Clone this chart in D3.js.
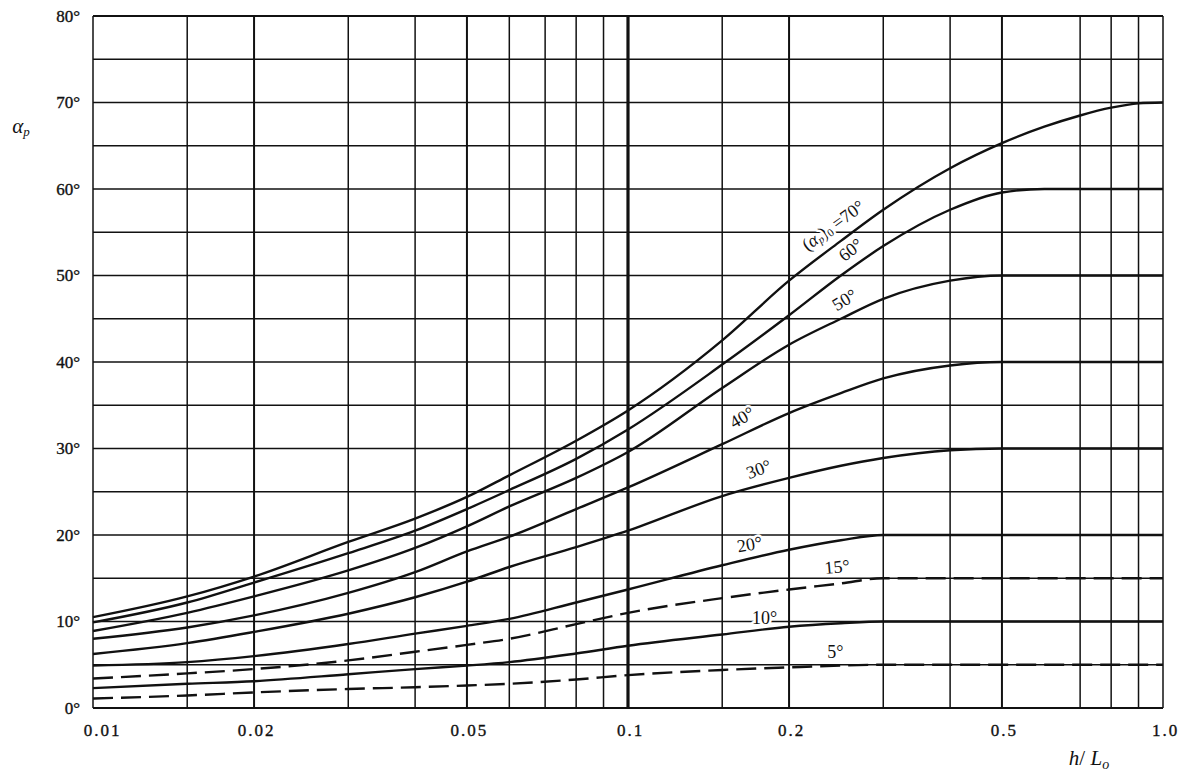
<!DOCTYPE html>
<html>
<head>
<meta charset="utf-8">
<script src="https://cdn.jsdelivr.net/npm/d3@7/dist/d3.min.js"></script>
<style>
  html, body { margin: 0; padding: 0; background: #fff; }
  svg { display: block; }
  text { font-family: "Liberation Serif", "DejaVu Serif", serif; fill: #111; }
</style>
</head>
<body>
<svg id="chart" width="1181" height="776"></svg>
<script>
// ── Data ──────────────────────────────────────────────────────────────────
// h/Lo sample points shared by every curve
const hL0 = [0.01, 0.015, 0.02, 0.03, 0.04, 0.05, 0.06, 0.08, 0.1, 0.15,
             0.2, 0.25, 0.3, 0.4, 0.5, 0.6, 0.7, 0.8, 0.9, 1.0];

// refracted angle αp for each deep-water angle (αp)0
const alpha70 = [10.5, 12.9, 15.2, 19.2, 21.9, 24.4, 26.9, 30.9, 34.4, 42.5,
                 49.4, 54.0, 57.6, 62.4, 65.3, 67.2, 68.5, 69.4, 69.9, 70];
const alpha60 = [9.9, 12.2, 14.5, 17.9, 20.5, 23.0, 25.2, 28.8, 32.2, 39.7,
                 45.4, 50.0, 53.4, 57.6, 59.6, 60, 60, 60, 60, 60];
const alpha50 = [8.9, 11.0, 12.9, 15.9, 18.5, 21.0, 23.3, 26.6, 29.6, 37.0,
                 42.0, 45.0, 47.3, 49.4, 50, 50, 50, 50, 50, 50];
const alpha40 = [8.0, 9.3, 10.7, 13.3, 15.7, 18.1, 19.8, 23.0, 25.5, 30.5,
                 34.1, 36.4, 38.1, 39.6, 40, 40, 40, 40, 40, 40];
const alpha30 = [6.25, 7.5, 8.8, 10.9, 12.8, 14.6, 16.3, 18.6, 20.5, 24.5,
                 26.6, 28.0, 28.9, 29.8, 30, 30, 30, 30, 30, 30];
const alpha20 = [4.9, 5.3, 6.0, 7.4, 8.6, 9.5, 10.3, 12.2, 13.7, 16.5,
                 18.3, 19.4, 20, 20, 20, 20, 20, 20, 20, 20];
const alpha15 = [3.4, 4.0, 4.5, 5.5, 6.5, 7.3, 8.0, 9.7, 11.0, 12.7,
                 13.7, 14.4, 15, 15, 15, 15, 15, 15, 15, 15];
const alpha10 = [2.3, 2.8, 3.1, 3.9, 4.5, 4.9, 5.3, 6.3, 7.2, 8.5,
                 9.4, 9.8, 10, 10, 10, 10, 10, 10, 10, 10];
const alpha5  = [1.1, 1.45, 1.8, 2.2, 2.4, 2.6, 2.8, 3.3, 3.8, 4.4,
                 4.7, 4.9, 5, 5, 5, 5, 5, 5, 5, 5];

const seriesNames  = ['70', '60', '50', '40', '30', '20', '15', '10', '5'];
const seriesValues = [alpha70, alpha60, alpha50, alpha40, alpha30, alpha20, alpha15, alpha10, alpha5];
const dashedSeries = ['15', '5'];

// grid + ticks
const gridX  = [0.01, 0.015, 0.02, 0.03, 0.04, 0.05, 0.06, 0.07, 0.08, 0.09,
                0.1, 0.15, 0.2, 0.3, 0.4, 0.5, 0.7, 0.8, 0.9, 1.0];
const gridY  = d3.range(0, 81, 5);
const xTicks = [0.01, 0.02, 0.05, 0.1, 0.2, 0.5, 1.0];
const yTicks = [0, 10, 20, 30, 40, 50, 60, 70, 80];

// curve labels: [h/Lo, αp, rotation]
const labelText = ['60°', '50°', '40°', '30°', '20°', '15°', '10°', '5°'];
const labelAt   = [[0.262, 52.8, -38], [0.255, 47.0, -31], [0.164, 33.4, -30], [0.176, 27.4, -20],
                   [0.169, 18.7, -10], [0.246, 16.1, -5], [0.180, 10.2, 0], [0.244, 6.2, 0]];

// ── Layout ────────────────────────────────────────────────────────────────
const svg = d3.select('#chart');
const x = d3.scaleLog().domain([0.01, 1]).range([93, 1163]);
const y = d3.scaleLinear().domain([0, 80]).range([708, 16]);

const INK = '#111';

// ── Grid ──────────────────────────────────────────────────────────────────
const grid = svg.append('g');
grid.selectAll('line.gx').data(gridX).join('line')
  .attr('x1', d => x(d)).attr('x2', d => x(d))
  .attr('y1', y(0)).attr('y2', y(80))
  .attr('stroke', INK)
  .attr('stroke-width', d => d === 0.1 ? 3.2 : ([0.02, 0.05, 0.2, 0.5].includes(d) ? 2 : 1.5));

grid.selectAll('line.gy').data(gridY).join('line')
  .attr('x1', x(0.01)).attr('x2', x(1))
  .attr('y1', d => y(d)).attr('y2', d => y(d))
  .attr('stroke', INK)
  .attr('stroke-width', d => (d === 0 || d === 80) ? 2 : 1.5);

// ── Curves ────────────────────────────────────────────────────────────────
const line = d3.line()
  .x(d => x(d[0]))
  .y(d => y(d[1]))
  .curve(d3.curveMonotoneX);

seriesNames.forEach((name, i) => {
  const pts = hL0.map((h, j) => [h, seriesValues[i][j]]);
  svg.append('path')
    .attr('d', line(pts))
    .attr('fill', 'none')
    .attr('stroke', INK)
    .attr('stroke-width', 2.4)
    .attr('stroke-dasharray', dashedSeries.includes(name) ? '20,8' : null);
});

// ── Curve labels ──────────────────────────────────────────────────────────
const labels = svg.append('g');

function halo(sel) {
  return sel.attr('stroke', '#fff').attr('stroke-width', 5)
    .attr('paint-order', 'stroke').attr('stroke-linejoin', 'round');
}

// (αp)0 = 70°
{
  const lx = x(0.243), ly = y(55.6);
  const t = labels.append('text')
    .attr('transform', `translate(${lx},${ly}) rotate(-36)`)
    .attr('text-anchor', 'middle')
    .attr('dominant-baseline', 'middle')
    .attr('font-size', 18);
  halo(t);
  t.append('tspan').text('(');
  t.append('tspan').attr('font-style', 'italic').text('α');
  t.append('tspan').attr('font-style', 'italic').attr('font-size', 11).attr('dy', 3).text('p');
  t.append('tspan').attr('dy', -3).text(')');
  t.append('tspan').attr('font-size', 11).attr('dy', 3).text('0');
  t.append('tspan').attr('dy', -3).text(' =70°');
}

labelText.forEach((txt, i) => {
  const [h, v, rot] = labelAt[i];
  halo(labels.append('text')
    .attr('transform', `translate(${x(h)},${y(v)}) rotate(${rot})`)
    .attr('text-anchor', 'middle')
    .attr('dominant-baseline', 'middle')
    .attr('font-size', 18)
    .text(txt));
});

// ── Axes ──────────────────────────────────────────────────────────────────
const yAxis = svg.append('g')
  .attr('transform', `translate(${x(0.01)},0)`)
  .call(d3.axisLeft(y).tickValues(yTicks).tickSize(0).tickPadding(13).tickFormat(d => d + '°'));
yAxis.select('.domain').remove();
yAxis.selectAll('text')
  .attr('font-family', '"Liberation Serif", serif')
  .attr('font-size', 17).attr('fill', INK)
  .attr('stroke', INK).attr('stroke-width', 0.35);

const xAxis = svg.append('g')
  .attr('transform', `translate(0,${y(0)})`)
  .call(d3.axisBottom(x).tickValues(xTicks).tickSize(0).tickPadding(16)
    .tickFormat(d => d === 1 ? '1.0' : String(d)));
xAxis.select('.domain').remove();
xAxis.selectAll('text')
  .attr('font-family', '"Liberation Serif", serif')
  .attr('font-size', 17).attr('fill', INK)
  .attr('stroke', INK).attr('stroke-width', 0.35)
  .style('letter-spacing', '2px')
  .attr('dx', d => d === 0.01 ? 9 : 2);

// axis titles
const yt = svg.append('text')
  .attr('x', 21).attr('y', 133)
  .attr('text-anchor', 'middle')
  .attr('font-size', 21);
yt.append('tspan').attr('font-style', 'italic').text('α');
yt.append('tspan').attr('font-style', 'italic').attr('font-size', 13).attr('dy', 3).text('p');

const xt = svg.append('text')
  .attr('x', 1089).attr('y', 765)
  .attr('text-anchor', 'middle')
  .attr('font-size', 21);
xt.append('tspan').attr('font-style', 'italic').text('h');
xt.append('tspan').text('/ ');
xt.append('tspan').attr('font-style', 'italic').text('L');
xt.append('tspan').attr('font-style', 'italic').attr('font-size', 14).attr('dy', 4).text('o');
</script>
</body>
</html>
